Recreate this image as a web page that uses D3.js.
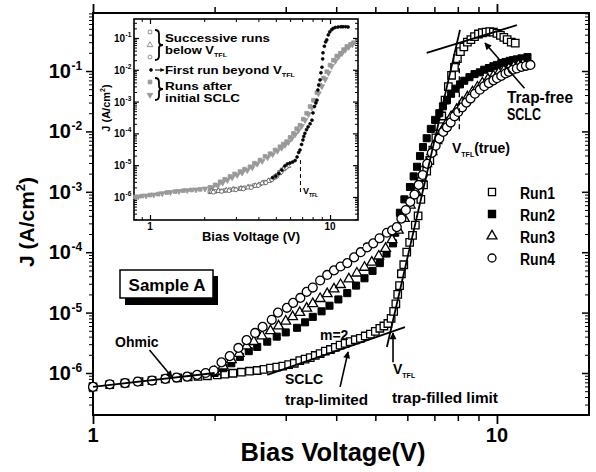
<!DOCTYPE html>
<html>
<head>
<meta charset="utf-8">
<script src="https://cdn.jsdelivr.net/npm/d3@7"></script>
<style>
  body { margin: 0; background: #fff; }
  svg { display: block; }
  text { font-family: "Liberation Sans", Arial, sans-serif; font-weight: bold; fill: #000; }
</style>
</head>
<body>
<svg id="chart" width="596" height="472"></svg>
<script>
// ====== Data (V in volts, J in A/cm^2) ======

const run1 = [[1.00,5.9e-7],[1.10,6.4e-7],[1.20,6.8e-7],[1.30,7.2e-7],[1.40,7.5e-7],[1.51,8.0e-7],[1.62,8.3e-7],[1.72,8.6e-7],[1.82,8.8e-7],[1.92,9.0e-7],
  [2.03,9.3e-7],[2.12,9.6e-7],[2.22,9.9e-7],[2.33,1.03e-6],[2.44,1.07e-6],[2.55,1.1e-6],[2.65,1.15e-6],[2.75,1.2e-6],[2.85,1.25e-6],[2.95,1.3e-6],
  [3.05,1.38e-6],[3.15,1.45e-6],[3.25,1.6e-6],[3.35,1.7e-6],[3.45,1.8e-6],[3.55,1.95e-6],[3.65,2.1e-6],[3.76,2.3e-6],[3.87,2.45e-6],[3.98,2.65e-6],
  [4.09,2.9e-6],[4.21,3.1e-6],[4.33,3.3e-6],[4.46,3.55e-6],[4.59,3.75e-6],[4.72,4.1e-6],[4.86,4.4e-6],[5.00,4.9e-6],[5.13,5.5e-6],[5.25,6.0e-6],
  [5.37,6.6e-6],[5.47,8.0e-6],[5.55,1.05e-5],[5.62,1.4e-5],[5.68,2.0e-5],[5.74,2.8e-5],[5.80,4.4e-5],[5.88,6.2e-5],[5.98,1.0e-4],[6.08,1.45e-4],
  [6.18,1.9e-4],[6.28,2.8e-4],[6.38,4.0e-4],[6.48,7.5e-4],[6.58,1.3e-3],[6.70,2.2e-3],[6.82,3.3e-3],[6.94,4.9e-3],[7.06,7.8e-3],[7.18,1.2e-2],
  [7.30,1.8e-2],[7.44,3.3e-2],[7.58,5.5e-2],[7.72,8.5e-2],[7.85,1.15e-1],[7.98,1.6e-1],[8.12,2.1e-1],[8.28,2.5e-1],[8.45,3.0e-1],[8.62,3.3e-1],
  [8.80,3.7e-1],[9.00,4.1e-1],[9.20,4.3e-1],[9.40,4.4e-1],[9.60,4.5e-1],[9.80,4.4e-1],[10.0,4.2e-1],[10.2,3.9e-1],[10.4,3.6e-1],[10.6,3.3e-1],
  [10.85,3.0e-1],[11.1,2.9e-1]]

const run2 = [[2.0,1.0e-6],[2.1,1.2e-6],[2.2,1.45e-6],[2.31,1.85e-6],[2.43,2.3e-6],[2.55,2.7e-6],[2.7,3.3e-6],[2.85,4.0e-6],[3.0,4.7e-6],[3.2,5.6e-6],
  [3.35,6.9e-6],[3.5,8.5e-6],[3.68,1.05e-5],[3.85,1.3e-5],[4.05,1.65e-5],[4.26,2.1e-5],[4.48,2.8e-5],[4.7,3.7e-5],[4.92,4.9e-5],[5.13,6.6e-5],
  [5.33,9.5e-5],[5.53,1.4e-4],[5.6,2.1e-4],[5.75,4.5e-4],[5.9,7.5e-4],[6.09,1.2e-3],[6.22,1.8e-3],[6.34,2.6e-3],[6.45,3.9e-3],[6.56,5.5e-3],
  [6.7,7.7e-3],[6.86,1.1e-2],[7.03,1.55e-2],[7.2,2.0e-2],[7.35,2.6e-2],[7.52,3.3e-2],[7.7,4.2e-2],[7.9,5.1e-2],[8.1,6.0e-2],[8.3,6.9e-2],
  [8.55,7.9e-2],[8.8,8.9e-2],[9.07,9.5e-2],[9.3,1.05e-1],[9.55,1.12e-1],[9.8,1.2e-1],[10.0,1.26e-1],[10.25,1.35e-1],[10.5,1.41e-1],[10.75,1.47e-1],
  [10.95,1.51e-1],[11.2,1.56e-1],[11.5,1.62e-1],[11.9,1.7e-1]]

const run3 = [[2.0,1.05e-6],[2.1,1.3e-6],[2.2,1.65e-6],[2.3,2.1e-6],[2.4,2.8e-6],[2.5,3.3e-6],[2.62,4.1e-6],[2.75,5.0e-6],[2.88,6.0e-6],[3.0,7.2e-6],
  [3.12,8.5e-6],[3.25,1.0e-5],[3.38,1.18e-5],[3.5,1.4e-5],[3.65,1.7e-5],[3.8,2.05e-5],[3.95,2.45e-5],[4.1,2.9e-5],[4.3,3.6e-5],[4.5,4.5e-5],
  [4.7,5.6e-5],[4.9,6.8e-5],[5.1,8.6e-5],[5.3,1.15e-4],[5.5,1.6e-4],[5.7,2.3e-4],[5.9,3.6e-4],[6.1,6.0e-4],[6.3,1.0e-3],[6.5,1.7e-3],
  [6.7,2.9e-3],[6.9,4.6e-3],[7.1,7.0e-3],[7.3,1.0e-2],[7.5,1.35e-2],[7.7,1.75e-2],[7.95,2.3e-2],[8.2,3.0e-2],[8.45,3.7e-2],[8.7,4.5e-2],
  [8.95,5.4e-2],[9.2,6.3e-2],[9.5,7.3e-2],[9.8,8.3e-2],[10.1,9.3e-2],[10.4,1.02e-1],[10.7,1.1e-1],[11.0,1.18e-1],[11.3,1.25e-1],[11.6,1.3e-1]]

const run4 = [[1.00,5.9e-7],[1.10,6.5e-7],[1.20,6.8e-7],[1.29,7.2e-7],[1.40,7.5e-7],[1.51,8.0e-7],[1.61,8.4e-7],[1.71,8.7e-7],[1.81,9.3e-7],[1.90,1.0e-6],
  [1.99,1.1e-6],[2.08,1.5e-6],[2.18,1.9e-6],[2.29,2.6e-6],[2.40,3.5e-6],[2.52,4.6e-6],[2.63,5.8e-6],[2.77,7.6e-6],[2.87,1.0e-5],[3.02,1.2e-5],
  [3.13,1.45e-5],[3.26,1.75e-5],[3.38,2.2e-5],[3.5,2.6e-5],[3.65,3.4e-5],[3.8,4.2e-5],[3.95,5.0e-5],[4.1,5.8e-5],[4.26,6.6e-5],[4.43,8.2e-5],
  [4.6,1.0e-4],[4.77,1.2e-4],[4.94,1.4e-4],[5.12,1.7e-4],[5.34,2.1e-4],[5.5,2.3e-4],[5.65,2.6e-4],[5.8,3.6e-4],[5.95,5.0e-4],[6.1,6.8e-4],
  [6.25,9.0e-4],[6.4,1.3e-3],[6.55,1.9e-3],[6.72,2.9e-3],[6.9,4.4e-3],[7.05,5.8e-3],[7.2,7.6e-3],[7.36,9.8e-3],[7.52,1.17e-2],[7.68,1.4e-2],
  [7.85,1.78e-2],[8.02,2.1e-2],[8.2,2.5e-2],[8.4,3.0e-2],[8.6,3.5e-2],[8.82,4.2e-2],[9.07,4.9e-2],[9.3,5.6e-2],[9.55,6.3e-2],[9.8,7.0e-2],
  [10.0,7.6e-2],[10.25,8.3e-2],[10.5,9.1e-2],[10.7,9.7e-2],[10.95,1.05e-1],[11.2,1.1e-1],[11.5,1.17e-1],[11.8,1.22e-1],[12.1,1.26e-1]]

// straight-line fits drawn over the data
const fitOhmic = [[1.0,5.9e-7],[2.0,1.0e-6]]
const fitM2 = [[2.70,9.3e-7],[5.92,5.75e-6]]
const fitSteep = [[5.34,2.7e-6],[8.1,0.48]]
const fitTop = [[6.7,0.2],[11.2,0.575]]

// inset: successive runs below V_TFL
const insetSq = [[2.15,1.45e-6],[2.3,1.5e-6],[2.45,1.55e-6],[2.6,1.6e-6],[2.78,1.7e-6],[2.95,1.78e-6],[3.16,1.85e-6],[3.35,1.95e-6],[3.59,2.1e-6],[3.8,2.3e-6],
  [4.08,2.55e-6],[4.35,2.95e-6],[4.64,3.4e-6],[4.85,4.0e-6],[5.08,4.9e-6],[5.25,6.0e-6],[5.4,7.1e-6],[5.6,8.3e-6],[5.77,9.3e-6]]
const insetTri = [[2.2,1.5e-6],[2.4,1.55e-6],[2.65,1.62e-6],[2.9,1.72e-6],[3.2,1.85e-6],[3.5,2.0e-6],[3.85,2.25e-6],[4.2,2.7e-6],[4.55,3.2e-6],[4.9,4.2e-6],
  [5.2,5.6e-6],[5.5,7.5e-6],[5.85,9.5e-6]]
const insetCirc = [[2.25,1.42e-6],[2.5,1.5e-6],[2.75,1.58e-6],[3.0,1.68e-6],[3.3,1.8e-6],[3.65,1.98e-6],[4.0,2.3e-6],[4.4,2.8e-6],[4.75,3.5e-6],[5.05,4.4e-6],
  [5.35,6.0e-6],[5.7,8.5e-6]]
// inset: first run beyond V_TFL
const insetFirst = [[4.8,4.0e-6],[5.0,4.5e-6],[5.2,5.5e-6],[5.4,7.0e-6],[5.62,9.5e-6],[5.8,1.1e-5],[6.0,1.17e-5],[6.2,1.25e-5],[6.4,1.4e-5],[6.56,1.8e-5],
  [6.7,2.5e-5],[6.81,3.0e-5],[6.95,4.5e-5],[7.07,6.2e-5],[7.15,8.0e-5],[7.25,1.0e-4],[7.4,1.3e-4],[7.55,1.6e-4],[7.75,2.0e-4],[7.94,2.6e-4],
  [8.04,4.4e-4],[8.2,7.0e-4],[8.35,9.0e-4],[8.46,1.1e-3],[8.56,2.3e-3],[8.65,3.3e-3],[8.8,4.8e-3],[8.9,8.0e-3],[9.02,1.2e-2],[9.1,2.2e-2],
  [9.14,3.4e-2],[9.3,5.5e-2],[9.45,7.5e-2],[9.59,8.7e-2],[9.78,1.25e-1],[9.96,1.55e-1],[10.2,1.8e-1],[10.4,2.0e-1],[10.7,2.15e-1],[11.1,2.2e-1],
  [11.5,2.25e-1],[11.8,2.25e-1],[12.2,2.25e-1],[12.6,2.2e-1]]
// inset: runs after initial SCLC
const insetAfterSq = [[0.83,1.0e-6],[0.9,1.07e-6],[1.0,1.15e-6],[1.11,1.23e-6],[1.24,1.38e-6],[1.38,1.48e-6],[1.53,1.58e-6],[1.7,1.66e-6],[1.9,1.74e-6],[2.15,2.0e-6],
  [2.3,2.4e-6],[2.45,3.0e-6],[2.6,3.6e-6],[2.78,4.4e-6],[2.95,5.3e-6],[3.16,6.3e-6],[3.35,7.5e-6],[3.59,8.9e-6],[3.8,1.15e-5],[4.08,1.45e-5],
  [4.35,1.9e-5],[4.64,2.3e-5],[4.95,3.0e-5],[5.27,3.8e-5],[5.5,4.6e-5],[5.74,5.5e-5],[6.0,7.5e-5],[6.26,1.0e-4],[6.53,1.4e-4],[6.81,1.8e-4],
  [7.1,2.8e-4],[7.42,4.3e-4],[7.75,7.0e-4],[8.09,1.1e-3],[8.45,1.9e-3],[8.8,3.3e-3],[9.2,5.5e-3],[9.59,8.7e-3],[10.0,1.4e-2],[10.45,2.0e-2],
  [10.9,2.7e-2],[11.4,3.3e-2],[11.9,4.3e-2],[12.4,5.4e-2],[13.0,6.3e-2],[13.5,7.1e-2]]
const insetAfterTri = [[0.86,1.03e-6],[0.95,1.1e-6],[1.05,1.18e-6],[1.17,1.3e-6],[1.3,1.42e-6],[1.45,1.52e-6],[1.61,1.62e-6],[1.8,1.7e-6],[2.02,1.82e-6],[2.22,2.0e-6],
  [2.38,2.3e-6],[2.53,2.8e-6],[2.69,3.4e-6],[2.86,4.1e-6],[3.05,4.9e-6],[3.25,5.8e-6],[3.47,6.9e-6],[3.7,8.5e-6],[3.94,1.1e-5],[4.2,1.35e-5],
  [4.5,1.75e-5],[4.8,2.2e-5],[5.1,2.8e-5],[5.38,3.5e-5],[5.62,4.3e-5],[5.87,5.3e-5],[6.13,7.0e-5],[6.4,9.3e-5],[6.67,1.25e-4],[6.95,1.7e-4],
  [7.26,2.6e-4],[7.58,4.0e-4],[7.92,6.5e-4],[8.27,1.05e-3],[8.62,1.8e-3],[9.0,3.0e-3],[9.4,5.0e-3],[9.8,8.0e-3],[10.2,1.3e-2],[10.7,1.9e-2],
  [11.15,2.6e-2],[11.65,3.3e-2],[12.15,4.2e-2],[12.7,5.2e-2],[13.3,6.2e-2]]

const mainXLabels = [1, 10]
const mainYLabels = [-1, -2, -3, -4, -5, -6]
const insetYLabels = [-1, -2, -3, -4, -5, -6]
const legendNames = ["Run1", "Run2", "Run3", "Run4"]

// ====== Setup ======

const svg = d3.select("#chart")

const defs = svg.append("defs")
defs.append("marker").attr("id", "ah").attr("viewBox", "0 0 10 10")
  .attr("refX", 9).attr("refY", 5).attr("markerWidth", 9).attr("markerHeight", 7)
  .attr("markerUnits", "userSpaceOnUse").attr("orient", "auto")
  .append("path").attr("d", "M0,0 L10,5 L0,10 z").attr("fill", "#000")
defs.append("marker").attr("id", "ahs").attr("viewBox", "0 0 10 10")
  .attr("refX", 9).attr("refY", 5).attr("markerWidth", 5).attr("markerHeight", 4)
  .attr("markerUnits", "userSpaceOnUse").attr("orient", "auto")
  .append("path").attr("d", "M0,0 L10,5 L0,10 z").attr("fill", "#000")

function logTicks([lo, hi]) {
  const major = [], minor = []
  for (let e = Math.floor(Math.log10(lo)); e <= Math.ceil(Math.log10(hi)); e++) {
    const b = Math.pow(10, e)
    if (b >= lo * 0.999 && b <= hi * 1.001) major.push(b)
    for (let k = 2; k < 10; k++) {
      const v = k * b
      if (v >= lo && v <= hi) minor.push(v)
    }
  }
  return {major, minor}
}

function tickSet(g, axis, scale, vals, size, sw, tx, ty) {
  g.append("g").attr("transform", `translate(${tx},${ty})`)
    .call(axis(scale).tickValues(vals).tickSize(size).tickFormat(""))
    .call(s => s.select(".domain").remove())
    .call(s => s.selectAll("line").attr("stroke", "#000").attr("stroke-width", sw))
    .call(s => s.selectAll("text").remove())
}

function symbols(g, data, xs, ys, type, size, fill, stroke, sw, flip) {
  g.append("g").selectAll("path").data(data).join("path")
    .attr("transform", d => `translate(${xs(d[0])},${ys(d[1])})` + (flip ? " rotate(180)" : ""))
    .attr("d", d3.symbol(type, size))
    .attr("fill", fill).attr("stroke", stroke).attr("stroke-width", sw)
}

function powText(g, x, y, exp, size, supSize, supRise) {
  g.append("text").attr("x", x).attr("y", y).attr("text-anchor", "end")
    .attr("font-size", size).text("10")
  g.append("text").attr("x", x + 0.5).attr("y", y - supRise).attr("text-anchor", "start")
    .attr("font-size", supSize).text(exp)
}

function subText(g, x, y, main, sub, size, subSize, tail, len) {
  const t = g.append("text").attr("x", x).attr("y", y).attr("font-size", size)
  t.append("tspan").text(main)
  t.append("tspan").attr("font-size", subSize).attr("dy", size * 0.28).text(sub)
  if (tail) t.append("tspan").attr("dy", -size * 0.28).text(tail)
  if (len) t.attr("textLength", len).attr("lengthAdjust", "spacingAndGlyphs")
  return t
}

function brace(g, x, y0, y1, w) {
  const m = (y0 + y1) / 2, h = w / 2
  g.append("path")
    .attr("d", `M${x},${y0} Q${x + h},${y0} ${x + h},${y0 + 4} L${x + h},${m - 3} Q${x + h},${m} ${x + w},${m}
      Q${x + h},${m} ${x + h},${m + 3} L${x + h},${y1 - 4} Q${x + h},${y1} ${x},${y1}`)
    .attr("fill", "none").attr("stroke", "#000").attr("stroke-width", 1.8)
}

// ====== Main plot ======

const mL = 93, mR = 589, mT = 13, mB = 415
const x = d3.scaleLog().domain([1, 16.9]).range([mL, mR])
const y = d3.scaleLog().domain([2.016e-7, 0.913]).range([mB, mT])
const xt = logTicks(x.domain()), yt = logTicks(y.domain())

const axes = svg.append("g")
tickSet(axes, d3.axisLeft, y, yt.major, 7, 1.5, mL, 0)
tickSet(axes, d3.axisLeft, y, yt.minor, 4, 1, mL, 0)
tickSet(axes, d3.axisRight, y, yt.major, -7, 1.5, mR, 0)
tickSet(axes, d3.axisRight, y, yt.minor, -4, 1, mR, 0)
tickSet(axes, d3.axisBottom, x, xt.major, 9, 1.8, 0, mB)
tickSet(axes, d3.axisBottom, x, xt.minor, 6, 1.5, 0, mB)
tickSet(axes, d3.axisTop, x, xt.major, 9, 1.8, 0, mT)
tickSet(axes, d3.axisTop, x, xt.minor, 6, 1.5, 0, mT)
axes.append("rect").attr("x", mL).attr("y", mT).attr("width", mR - mL).attr("height", mB - mT)
  .attr("fill", "none").attr("stroke", "#000").attr("stroke-width", 2)

mainXLabels.forEach(v => axes.append("text").attr("x", x(v)).attr("y", 442)
  .attr("text-anchor", "middle").attr("font-size", 20).text(v))
mainYLabels.forEach(e => powText(axes, 71, y(Math.pow(10, e)) + 7, String(e), 20, 12, 8))

const yTitle = axes.append("text").attr("transform", "translate(34,222) rotate(-90)")
  .attr("text-anchor", "middle").attr("font-size", 21)
yTitle.append("tspan").text("J (A/cm")
yTitle.append("tspan").attr("font-size", 13).attr("dy", -9).text("2")
yTitle.append("tspan").attr("dy", 9).text(")")
axes.append("text").attr("x", 333).attr("y", 461).attr("text-anchor", "middle")
  .attr("font-size", 26).attr("textLength", 185).attr("lengthAdjust", "spacingAndGlyphs")
  .text("Bias Voltage(V)")

const plot = svg.append("g")
symbols(plot, run1, x, y, d3.symbolSquare, 56, "#fff", "#000", 1.3)
symbols(plot, run2, x, y, d3.symbolSquare, 50, "#000", "#000", 1)
symbols(plot, run3, x, y, d3.symbolTriangle, 42, "#fff", "#000", 1.3)
symbols(plot, run4, x, y, d3.symbolCircle, 62, "#fff", "#000", 1.3)

const line = d3.line().x(d => x(d[0])).y(d => y(d[1]))
;[fitOhmic, fitM2, fitSteep, fitTop].forEach(f =>
  plot.append("path").attr("d", line(f)).attr("fill", "none").attr("stroke", "#000").attr("stroke-width", 1.8))

// ====== Annotations ======

const ann = svg.append("g")
const arrow = (a, b) => ann.append("line")
  .attr("x1", x(a[0])).attr("y1", y(a[1])).attr("x2", x(b[0])).attr("y2", y(b[1]))
  .attr("stroke", "#000").attr("stroke-width", 1.6).attr("marker-end", "url(#ah)")
arrow([1.38, 2.4e-6], [1.57, 8.5e-7])
arrow([4.09, 5.9e-7], [4.28, 2.24e-6])
arrow([5.53, 1.5e-6], [5.53, 4.6e-6])
arrow([11.7, 5.2e-2], [9.34, 0.29])
ann.append("line").attr("x1", x(8.07)).attr("x2", x(8.07)).attr("y1", y(0.151)).attr("y2", y(1.05e-2))
  .attr("stroke", "#000").attr("stroke-width", 1.3).attr("stroke-dasharray", "5,3")

const label = (t, px, py, size, len) => {
  const el = ann.append("text").attr("x", px).attr("y", py).attr("font-size", size).text(t)
  if (len) el.attr("textLength", len).attr("lengthAdjust", "spacingAndGlyphs")
}
label("Ohmic", 115, 347, 14)
label("m=2", 320, 340, 14)
label("SCLC", 285, 384, 14)
label("trap-limited", 285, 405, 14, 83)
label("trap-filled limit", 392, 403, 14, 106)
label("Trap-free", 507, 103, 16, 66)
label("SCLC", 507, 120, 16, 34)
subText(ann, 393, 374, "V", "TFL", 14, 7)
subText(ann, 452, 153, "V", "TFL", 14, 7, "(true)")

// Sample A box with shadow
ann.append("rect").attr("x", 125).attr("y", 276).attr("width", 93).attr("height", 29).attr("fill", "#000")
ann.append("rect").attr("x", 120).attr("y", 270).attr("width", 93).attr("height", 28)
  .attr("fill", "#fff").attr("stroke", "#000").attr("stroke-width", 1.5)
ann.append("text").attr("x", 167).attr("y", 291).attr("text-anchor", "middle").attr("font-size", 17).text("Sample A")

// legend
const legendY = [192, 214, 236, 258]
const legendSym = [
  [d3.symbolSquare, 50, "#fff"], [d3.symbolSquare, 50, "#000"],
  [d3.symbolTriangle, 42, "#fff"], [d3.symbolCircle, 50, "#fff"]]
legendNames.forEach((n, i) => {
  ann.append("path").attr("transform", `translate(492,${legendY[i]})`)
    .attr("d", d3.symbol(legendSym[i][0], legendSym[i][1]))
    .attr("fill", legendSym[i][2]).attr("stroke", "#000").attr("stroke-width", 1.3)
  label(n, 520, legendY[i] + 7, 16, 35)
})

// ====== Inset ======

const iL = 134, iR = 358, iT = 19, iB = 220
const xi = d3.scaleLog().domain([0.815, 14.3]).range([iL, iR])
const yi = d3.scaleLog().domain([1.89e-7, 0.395]).range([iB, iT])
const xit = logTicks(xi.domain()), yit = logTicks(yi.domain())

const inset = svg.append("g")
inset.append("rect").attr("x", 97).attr("y", 15).attr("width", 266).attr("height", 232).attr("fill", "#fff")
tickSet(inset, d3.axisLeft, yi, yit.major, -5, 1.2, iL, 0)
tickSet(inset, d3.axisLeft, yi, yit.minor, -3, 1, iL, 0)
tickSet(inset, d3.axisRight, yi, yit.major, -5, 1.2, iR, 0)
tickSet(inset, d3.axisRight, yi, yit.minor, -3, 1, iR, 0)
tickSet(inset, d3.axisBottom, xi, xit.major, -5, 1.2, 0, iB)
tickSet(inset, d3.axisBottom, xi, xit.minor, -3, 1, 0, iB)
tickSet(inset, d3.axisTop, xi, xit.major, -5, 1.2, 0, iT)
tickSet(inset, d3.axisTop, xi, xit.minor, -3, 1, 0, iT)
inset.append("rect").attr("x", iL).attr("y", iT).attr("width", iR - iL).attr("height", iB - iT)
  .attr("fill", "none").attr("stroke", "#000").attr("stroke-width", 1.6)

mainXLabels.forEach(v => inset.append("text").attr("x", xi(v)).attr("y", 230)
  .attr("text-anchor", "middle").attr("font-size", 10).text(v))
insetYLabels.forEach(e => powText(inset, 125, yi(Math.pow(10, e)) + 4, String(e), 10, 6.5, 5))
const yiTitle = inset.append("text").attr("transform", "translate(110,108) rotate(-90)")
  .attr("text-anchor", "middle").attr("font-size", 11)
yiTitle.append("tspan").text("J (A/cm")
yiTitle.append("tspan").attr("font-size", 7).attr("dy", -5).text("2")
yiTitle.append("tspan").attr("dy", 5).text(")")
inset.append("text").attr("x", 251).attr("y", 241).attr("text-anchor", "middle")
  .attr("font-size", 13).text("Bias Voltage (V)")

const grey = "#999"
symbols(inset, insetAfterSq, xi, yi, d3.symbolSquare, 14, grey, grey, 0.8)
symbols(inset, insetAfterTri, xi, yi, d3.symbolTriangle, 14, grey, grey, 0.8, true)
symbols(inset, insetSq, xi, yi, d3.symbolSquare, 12, "#fff", "#555", 0.8)
symbols(inset, insetTri, xi, yi, d3.symbolTriangle, 12, "#fff", "#555", 0.8)
symbols(inset, insetCirc, xi, yi, d3.symbolCircle, 12, "#fff", "#555", 0.8)
symbols(inset, insetFirst, xi, yi, d3.symbolCircle, 7, "#000", "#000", 0.6)

inset.append("line").attr("x1", xi(6.85)).attr("x2", xi(6.85)).attr("y1", yi(1.45e-5)).attr("y2", yi(1.15e-6))
  .attr("stroke", "#000").attr("stroke-width", 1).attr("stroke-dasharray", "4,3")
subText(inset, 303, 194, "V", "TFL", 9, 5)

// inset legend
symbols(inset, [[0, 0]], () => 150, () => 32, d3.symbolSquare, 12, "#fff", "#777", 0.8)
symbols(inset, [[0, 0]], () => 150, () => 45, d3.symbolTriangle, 14, "#fff", "#777", 0.8)
symbols(inset, [[0, 0]], () => 150, () => 57, d3.symbolCircle, 12, "#fff", "#777", 0.8)
symbols(inset, [[0, 0]], () => 151, () => 70, d3.symbolCircle, 7, "#000", "#000", 0.6)
symbols(inset, [[0, 0]], () => 150, () => 82, d3.symbolSquare, 14, grey, grey, 0.8)
symbols(inset, [[0, 0]], () => 150, () => 95, d3.symbolTriangle, 14, grey, grey, 0.8, true)
brace(inset, 155, 30, 60, 8)
brace(inset, 155, 78, 100, 8)
inset.append("line").attr("x1", 155).attr("x2", 164).attr("y1", 70).attr("y2", 70)
  .attr("stroke", "#000").attr("stroke-width", 1).attr("marker-end", "url(#ahs)")
const insetLabel = (t, py, len) => inset.append("text").attr("x", 165).attr("y", py)
  .attr("font-size", 11).attr("textLength", len).attr("lengthAdjust", "spacingAndGlyphs").text(t)
insetLabel("Successive runs", 42, 105)
subText(inset, 165, 54, "below V", "TFL", 11, 6, null, 62)
subText(inset, 165, 74, "First run beyond V", "TFL", 11, 6, null, 130)
insetLabel("Runs after", 90, 67)
insetLabel("initial SCLC", 102, 75)
</script>
</body>
</html>
